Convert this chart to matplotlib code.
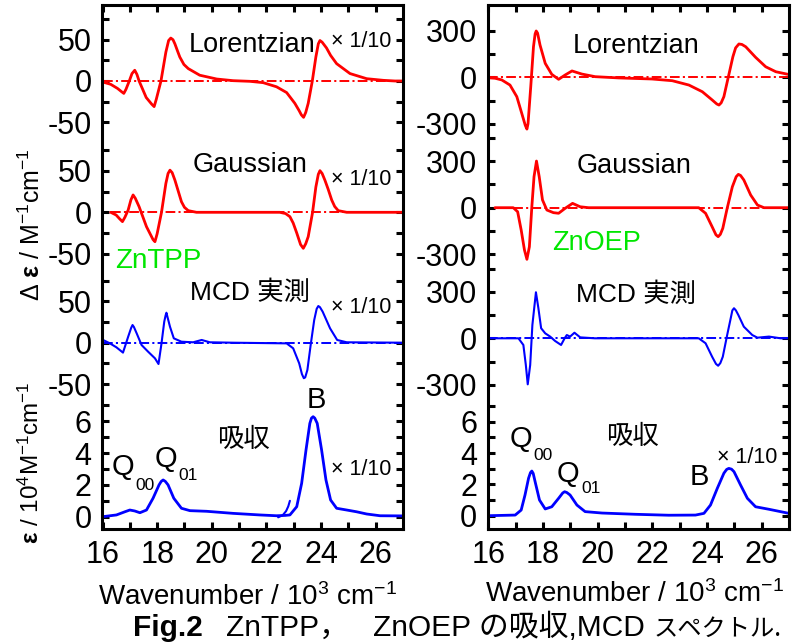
import matplotlib
matplotlib.use('Agg')
import matplotlib.pyplot as plt
import numpy as np
from matplotlib import font_manager

names = {f.name for f in font_manager.fontManager.ttflist}
SANS = 'Liberation Sans Narrow' if 'Liberation Sans Narrow' in names else 'Liberation Sans'
JP = 'Noto Sans CJK JP'

plt.rcParams['font.family'] = [SANS, JP, 'DejaVu Sans']
plt.rcParams['mathtext.fontset'] = 'custom'
plt.rcParams['mathtext.rm'] = SANS
plt.rcParams['mathtext.it'] = SANS + ':italic'
plt.rcParams['mathtext.bf'] = SANS + ':bold'
plt.rcParams['lines.scale_dashes'] = False

# ---- ZnTPP (left) ----  x: wavenumber / 10^3 cm-1
tpp_lor_x = [16.0, 16.09, 16.3, 16.55, 16.7, 16.78, 16.86, 16.98, 17.08, 17.18, 17.26, 17.34, 17.6, 17.8,
             17.89, 17.97, 18.14, 18.32, 18.42, 18.5, 18.58, 18.65, 18.75, 18.83, 18.98, 19.14, 19.56, 20.18,
             20.78, 21.4, 21.88, 22.37, 22.74, 23.04, 23.2, 23.28, 23.36, 23.44, 23.53, 23.68, 23.81, 23.9,
             23.96, 24.04, 24.2, 24.35, 24.57, 25.06, 25.67, 26.28, 26.71, 27.0]
tpp_lor_y = [-1, -2, -4, -9, -13, -15, -10, 0, 9, 13, 8, 0, -20, -28,
             -31, -22, 0, 35, 49, 52, 50, 45, 36, 29, 20, 15, 7, 2.4,
             0.4, -0.4, -2, -7, -14, -27, -36, -41, -44, -38, -27, 0, 29, 45,
             49, 47, 40, 31, 21, 9, 2.8, 0.8, 0, 0]

tpp_gau_x = [16.3, 16.5, 16.63, 16.73, 16.82, 16.94, 17.04, 17.12, 17.2, 17.34, 17.61, 17.85, 17.92, 18.0,
             18.16, 18.32, 18.4, 18.47, 18.55, 18.65, 18.89, 19.0, 19.14, 19.44, 22.49, 22.7, 22.86, 22.98,
             23.11, 23.25, 23.35, 23.44, 23.53, 23.69, 23.81, 23.9, 23.96, 24.04, 24.14, 24.26, 24.39, 24.5,
             24.63, 24.94, 27.0]
tpp_gau_y = [0, -3.3, -8, -11.3, -6, 2.8, 15, 21, 17, 6.8, -17.4, -33, -35.6, -26,
             0, 35, 47, 51, 48, 39, 12.8, 6, 2, 0, 0, -1.5, -5.3, -13,
             -25, -39, -43.6, -38, -29.5, 0, 30.6, 46, 50.4, 47, 39, 28, 14.9, 7,
             2, 0, 0]

tpp_mcd_x = [16.02, 16.27, 16.51, 16.75, 16.94, 17.05, 17.1, 17.15, 17.25, 17.43, 17.67, 17.92, 18.05, 18.16,
             18.26, 18.31, 18.34, 18.38, 18.47, 18.61, 18.89, 19.32, 19.63, 19.93, 20.78, 22.74, 22.98, 23.2,
             23.3, 23.37, 23.42, 23.5, 23.62, 23.75, 23.84, 23.9, 23.96, 24.06, 24.33, 24.59, 24.94, 27.0]
tpp_mcd_y = [3.3, -0.8, -5.6, -12, 7.3, 18, 21.4, 19, 11.4, -2.8, -10.9, -18.9, -25.8, -0.8,
             25.4, 33, 36.3, 31, 19.4, 5.3, 1.2, 0.5, 3.3, 0.5, 0, -0.8, -6.8, -25,
             -38, -43, -42, -33, -2.8, 27.5, 41, 44.4, 43, 37.5, 17.4, 3.3, 0.5, 0]

tpp_abs_x = [16.0, 16.51, 16.82, 17.0, 17.18, 17.37, 17.61, 17.85, 18.07, 18.15, 18.22, 18.3, 18.4, 18.61,
             18.89, 19.2, 19.81, 20.78, 21.76, 22.37, 22.68, 22.86, 23.11, 23.29, 23.45, 23.59, 23.65, 23.71,
             23.77, 23.86, 24.02, 24.18, 24.35, 24.57, 24.94, 25.3, 25.67, 26.16, 27.0]
tpp_abs_y = [0, 0.11, 0.31, 0.42, 0.36, 0.25, 0.42, 1.16, 2.0, 2.22, 2.31, 2.22, 2.0, 1.16,
             0.53, 0.38, 0.34, 0.21, 0.11, 0.06, 0.08, 0.11, 0.63, 2.1, 4.2, 5.87, 6.2, 6.29,
             6.2, 5.87, 4.2, 2.31, 1.05, 0.53, 0.42, 0.31, 0.17, 0.06, 0.05]
# short piece of the unscaled B band
tpp_abs1_x = [22.43, 22.6, 22.72, 22.8, 22.86]
tpp_abs1_y = [-0.04, 0.1, 0.35, 0.65, 1.0]

# ---- ZnOEP (right) ----
oep_lor_x = [16.0, 16.24, 16.49, 16.79, 17.04, 17.22, 17.35, 17.41, 17.45, 17.55, 17.65, 17.71, 17.75, 17.8,
             17.89, 18.08, 18.32, 18.57, 18.81, 19.06, 19.42, 19.91, 20.77, 21.99, 22.73, 23.34, 23.83, 24.19,
             24.36, 24.44, 24.52, 24.62, 24.78, 24.95, 25.05, 25.17, 25.28, 25.42, 25.78, 26.15, 26.52, 27.0]
oep_lor_y = [-3, -6, -17, -50, -125, -232, -310, -334, -300, -61, 197, 280, 299, 285,
             208, 90, 19, -13, 15, 41, 21, 4, -4, -11, -22, -50, -93, -146,
             -172, -179, -165, -125, 0, 133, 190, 215, 212, 197, 129, 68, 36, 18]

oep_gau_x = [16.24, 16.91, 17.07, 17.2, 17.32, 17.41, 17.5, 17.59, 17.67, 17.76, 17.86, 17.98, 18.14, 18.38,
             18.57, 18.81, 19.08, 19.36, 19.67, 23.7, 23.95, 24.19, 24.33, 24.41, 24.49, 24.58, 24.74, 24.93,
             25.07, 25.15, 25.23, 25.35, 25.6, 25.85, 26.09, 27.0]
oep_gau_y = [0, 0, -26, -144, -273, -333, -252, 6, 200, 301, 200, 50, -15, -32,
             -36, -4, 28, 6, 0, 0, -36, -123, -175, -187, -172, -133, -4, 135,
             200, 215, 208, 179, 82, 17, 0, 0]

oep_mcd_x = [16.0, 17.1, 17.28, 17.37, 17.44, 17.53, 17.61, 17.74, 17.83, 17.93, 18.08, 18.26, 18.44, 18.66,
             18.79, 18.87, 18.99, 19.15, 19.36, 19.9, 23.7, 23.95, 24.19, 24.33, 24.41, 24.49, 24.58, 24.74,
             24.87, 24.93, 24.99, 25.06, 25.15, 25.35, 25.66, 25.85, 26.27, 26.7, 27.0]
oep_mcd_y = [0, 0, -43, -172, -297, -172, 86, 297, 194, 65, 32, 11, -17, -43,
             0, 21, 11, 36, 6, 0, 0, -32, -119, -165, -177, -160, -119, 21,
             129, 180, 194, 180, 150, 75, 21, 4, 11, 0, 0]

oep_abs_x = [16.0, 16.98, 17.2, 17.34, 17.47, 17.54, 17.59, 17.64, 17.71, 17.87, 18.08, 18.32, 18.57, 18.72,
             18.79, 18.87, 18.99, 19.24, 19.54, 20.16, 21.38, 22.6, 23.58, 23.89, 24.13, 24.38, 24.62, 24.72,
             24.8, 24.9, 24.99, 25.23, 25.48, 25.78, 26.27, 27.0]
oep_abs_y = [0, 0.04, 0.36, 1.32, 2.39, 2.75, 2.85, 2.7, 2.17, 1.0, 0.43, 0.57, 1.11, 1.45,
             1.53, 1.48, 1.32, 0.68, 0.26, 0.17, 0.09, 0.03, 0.04, 0.15, 0.68, 1.75, 2.71, 2.95,
             3.02, 2.97, 2.81, 1.96, 1.11, 0.57, 0.41, 0.15]

x_ticks = [16, 18, 20, 22, 24, 26]

W, H = 792, 642
RED, BLUE, GREEN = '#ff0000', '#0000ff', '#00e600'
DASHDOT = (0, (7, 2.3, 1.5, 2.3))

fig = plt.figure(figsize=(W / 100, H / 100), dpi=100)


def ftxt(x, y, s, **kw):
    # x, y in picture pixels from the top-left corner
    kw.setdefault('va', 'baseline')
    kw.setdefault('ha', 'left')
    fig.text(x / W, 1 - y / H, s, **kw)


def make_axes(left, sections, traces, zero_lines):
    ax = fig.add_axes([left / W, (H - 529) / H, 300.5 / W, 524 / H])
    ax.set_xlim(16, 27)
    ax.set_ylim(0, 524)
    for lx, ly, sec, color, lw in traces:
        base, scale = sections[sec][:2]
        ax.plot(lx, base + scale * np.asarray(ly), color=color, lw=lw,
                solid_joinstyle='round', solid_capstyle='round')
    for sec, x0, color in zero_lines:
        base = sections[sec][0]
        ax.plot([x0, 27], [base, base], color=color, lw=1.4, ls=DASHDOT)
    major, labels, minor = [], [], []
    for base, scale, majors, minors in sections.values():
        for v in majors:
            major.append(base + scale * v)
            labels.append(f'{v:g}')
        minor += [base + scale * v for v in minors]
    ax.set_yticks(major, labels)
    ax.set_yticks(minor, minor=True)
    ax.set_xticks(x_ticks, [str(t) for t in x_ticks])
    ax.set_xticks(range(17, 27, 2), minor=True)
    ax.tick_params(which='both', direction='in', length=5, width=2.2,
                   top=True, right=True, labelsize=22, pad=8)
    for s in ax.spines.values():
        s.set_linewidth(2.2)
    return ax


# section: (zero position, scale, labelled ticks, unlabelled ticks)
tpp_sec = {
    'lor': (448.0, 0.826, [50, 0, -50], [75, 25, -25]),
    'gau': (316.7, 0.826, [50, 0, -50], [75, 25, -25]),
    'mcd': (186.3, 0.826, [50, 0, -50], [75, 25, -25]),
    'abs': (12.3, 15.9, [6, 4, 2, 0], [7, 5, 3, 1]),
}
oep_sec = {
    'lor': (451.7, 0.155, [300, 0, -300], [150, -150]),
    'gau': (321.3, 0.155, [300, 0, -300], [450, 150, -150]),
    'mcd': (190.7, 0.155, [300, 0, -300], [450, 150, -150]),
    'abs': (13.3, 15.67, [6, 4, 2, 0], [7, 5, 3, 1]),
}

make_axes(102.5, tpp_sec,
          [(tpp_lor_x, tpp_lor_y, 'lor', RED, 2.0),
           (tpp_gau_x, tpp_gau_y, 'gau', RED, 2.0),
           (tpp_mcd_x, tpp_mcd_y, 'mcd', BLUE, 1.5),
           (tpp_abs_x, tpp_abs_y, 'abs', BLUE, 2.0),
           (tpp_abs1_x, tpp_abs1_y, 'abs', BLUE, 1.5)],
          [('lor', 16.0, RED), ('gau', 16.3, RED), ('mcd', 16.0, BLUE)])

make_axes(488.4, oep_sec,
          [(oep_lor_x, oep_lor_y, 'lor', RED, 2.0),
           (oep_gau_x, oep_gau_y, 'gau', RED, 2.0),
           (oep_mcd_x, oep_mcd_y, 'mcd', BLUE, 1.5),
           (oep_abs_x, oep_abs_y, 'abs', BLUE, 2.0)],
          [('lor', 16.0, RED), ('gau', 16.24, RED), ('mcd', 16.0, BLUE)])

# panel annotations
ftxt(252, 51.7, 'Lorentzian', ha='center', size=19.5)
ftxt(250, 171.7, 'Gaussian', ha='center', size=19.5)
ftxt(115, 268, 'ZnTPP', size=20, color=GREEN)
ftxt(250, 300, 'MCD 実測', ha='center', size=19)
ftxt(316, 408, 'B', ha='center', size=21)
ftxt(243, 447, '吸収', ha='center', size=19, family=JP)
for yb in (47, 185, 313, 475):
    ftxt(331, yb, '× 1/10', size=15.5)
ftxt(111.7, 475, 'Q', size=21)
ftxt(135, 490, '00', size=12.5)
ftxt(155, 466.7, 'Q', size=21)
ftxt(178, 480, '01', size=12.5)

ftxt(636, 53.3, 'Lorentzian', ha='center', size=19.5)
ftxt(634, 173.3, 'Gaussian', ha='center', size=19.5)
ftxt(551.7, 250, 'ZnOEP', size=19.5, color=GREEN)
ftxt(636, 301.7, 'MCD 実測', ha='center', size=19)
ftxt(632, 444, '吸収', ha='center', size=19, family=JP)
ftxt(510, 446.7, 'Q', size=21)
ftxt(533, 460, '00', size=12.5)
ftxt(556.7, 481.7, 'Q', size=21)
ftxt(581.7, 493, '01', size=12.5)
ftxt(690, 485, 'B', size=21)
ftxt(716.7, 462.7, '× 1/10', size=15.5)

# axis titles
ftxt(32, 225, 'Δ $\\mathbf{ε}$ / M$^{-1}$cm$^{-1}$', rotation=90, ha='center', va='center', size=18)
ftxt(31, 463, '$\\mathbf{ε}$ / 10$^{4}$M$^{-1}$cm$^{-1}$', rotation=90, ha='center', va='center', size=17.5)
ftxt(98, 605, 'Wavenumber / 10$^{3}$ cm$^{-1}$', size=20)
ftxt(485, 602, 'Wavenumber / 10$^{3}$ cm$^{-1}$', size=20)

# caption
ftxt(133, 636, 'Fig.2', size=21.5, weight='bold', family=['Liberation Sans'])
ftxt(226, 636, 'ZnTPP，', size=21.5, family=['Liberation Sans', JP])
ftxt(373, 636, 'ZnOEP の吸収,MCD', size=21.5, family=['Liberation Sans', JP])
ftxt(654, 636, 'スペクトル.', size=17.5, family=[JP, 'Liberation Sans'])

fig.savefig('out.png', dpi=100)
